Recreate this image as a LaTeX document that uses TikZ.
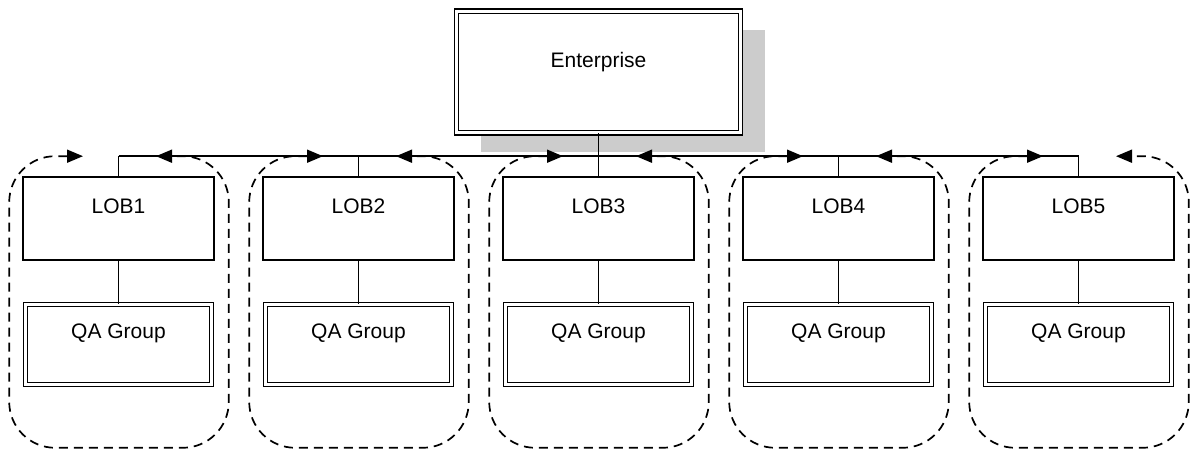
\documentclass[tikz,border=0pt]{standalone}
\usepackage{fontspec}
\setmainfont{Liberation Sans}
\usetikzlibrary{
    calc,
    positioning,
    shadows,
    arrows.meta}
\tikzset{txt/.style={text height=7.5pt, text depth=12.5pt}}
\tikzset{lobbox/.style={
            draw, fill=white, line width=0.8pt, txt,
            minimum width=95.5pt, minimum height=41.5pt, inner sep=0pt
        }}
\tikzset{dblbox/.style={
            draw, fill=white, line width=0.65pt, double=white, double distance=1.5pt, txt, inner sep=0pt
        }}
\tikzset{loopline/.style={
            line width=0.85pt, dash pattern=on 4.5pt off 3pt, rounded corners=23pt,
            {Triangle[length=8pt, width=6.5pt]}-{Triangle[length=8pt, width=6.5pt]}
        }}

\begin{document}
\begin{tikzpicture}[x=0.5pt, y=-0.5pt, font=\fontsize{10.5}{12}\selectfont]

    \useasboundingbox (0,0) rectangle (1190,453);

    % top
    \node(ent)[dblbox, minimum width=142pt, minimum height=60.75pt, text depth=12pt,
        drop shadow={shadow xshift=12pt, shadow yshift=-9.5pt, fill=gray!40, opacity=1}]
        at (598.5,72){Enterprise};

    % columns
    \foreach \i in {1,...,5}{
        \node(lob\i)[lobbox] at (118.5+240*\i-240,218.5){LOB\i};
        \node(qa\i)[dblbox, minimum width=93pt, minimum height=40pt, text depth=13.5pt]
            at (118.5+240*\i-240,344.5){QA Group};
        \draw[line width=0.75pt] (lob\i.south) -- (qa\i.north);
        \draw[line width=0.75pt] (lob\i.north) -- ++(0,-20);
    }

    % bus
    \draw[line width=0.75pt] (ent.south) -- (lob3.north);
    \draw[line width=0.75pt] ($(lob1.north)+(0,-20)$) -- ($(lob5.north)+(0,-20)$);

    % dashed loops
    \foreach \i in {1,...,5}{
        \draw[loopline] ($(lob\i.north)+(-35.5,-20)$) -| ($(lob\i.south west)+(-13,187)$)
            -| ($(lob\i.north east)+(14,-20)$) -- ($(lob\i.north)+(37.5,-20)$);
    }

\end{tikzpicture}
\end{document}
